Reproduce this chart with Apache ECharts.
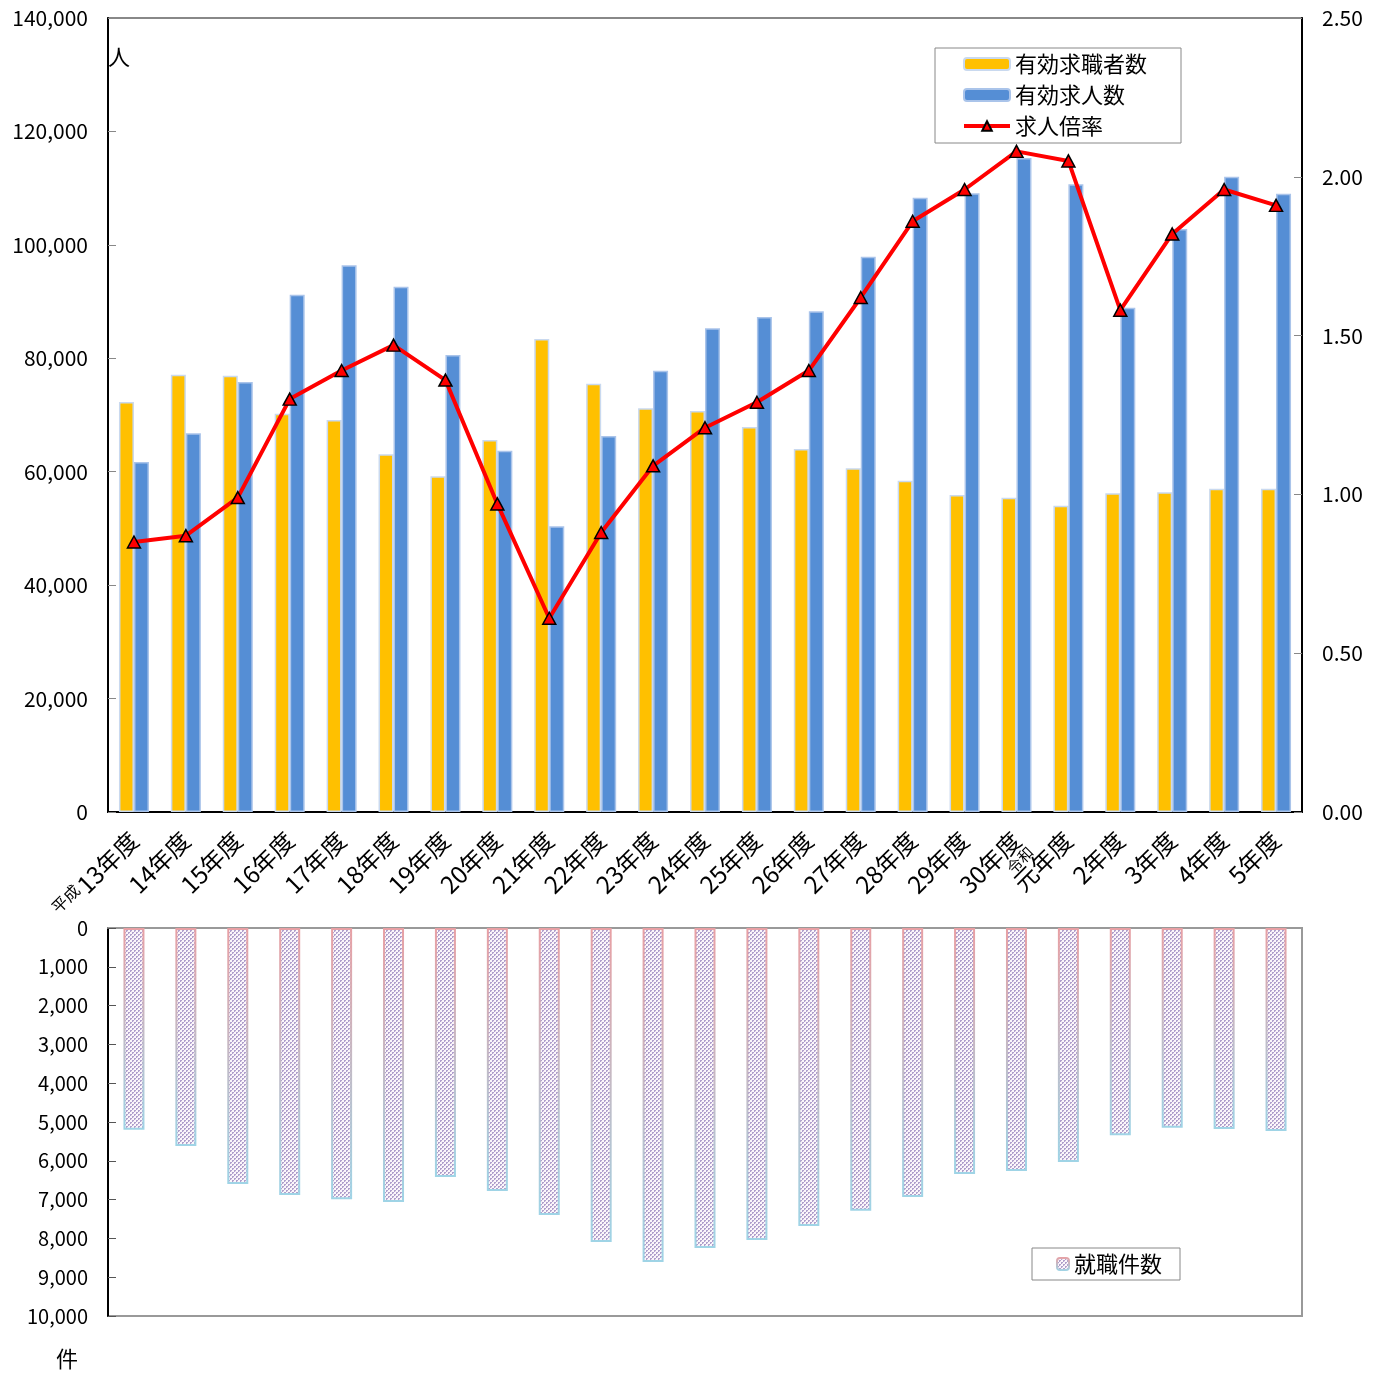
<!DOCTYPE html>
<html><head><meta charset="utf-8">
<script src="https://cdn.jsdelivr.net/npm/echarts@6/dist/echarts.min.js"></script>
<style>html,body{margin:0;padding:0;background:#fff}#c{width:1384px;height:1376px}</style>
</head><body><div id="c"></div>
<script>
const categories = ['13年度','14年度','15年度','16年度','17年度','18年度','19年度','20年度','21年度','22年度','23年度','24年度','25年度','26年度','27年度','28年度','29年度','30年度','元年度','2年度','3年度','4年度','5年度'];
const seekers = [72300,77100,76900,70200,69100,63100,59200,65600,83400,75500,71200,70700,67900,64000,60600,58400,55900,55400,54000,56200,56400,57000,57000];
const openings = [61700,66800,75800,91200,96400,92600,80600,63700,50400,66300,77800,85300,87300,88300,97900,108300,109100,115300,110700,88900,102800,112000,109000];
const ratio = [0.85,0.87,0.99,1.30,1.39,1.47,1.36,0.97,0.61,0.88,1.09,1.21,1.29,1.39,1.62,1.86,1.96,2.08,2.05,1.58,1.82,1.96,1.91];
const placements = [5200,5620,6600,6880,6990,7060,6420,6780,7400,8090,8610,8250,8040,7680,7290,6930,6340,6260,6030,5340,5150,5180,5230];
const seriesNames = ['有効求職者数','有効求人数','求人倍率','就職件数'];

const FONT = '"Noto Sans CJK JP", "Noto Sans", sans-serif';

// checkered pattern for 就職件数
const pc = document.createElement('canvas'); pc.width = 4; pc.height = 4;
const g = pc.getContext('2d');
g.fillStyle = '#fbf7fb'; g.fillRect(0,0,4,4);
g.fillStyle = '#b0a0cc'; g.fillRect(0,0,2,2); g.fillRect(2,2,2,2);
g.fillStyle = '#eddfee'; g.fillRect(1,1,1,1); g.fillRect(3,3,1,1);

const chart = echarts.init(document.getElementById('c'), null, {renderer:'canvas'});
const numFmt = v => v.toLocaleString('en-US');

chart.setOption({
  animation: false,
  textStyle: {fontFamily: FONT},
  grid: [
    {left:108, right:82, top:18, height:794, show:true, borderColor:'#888', borderWidth:2, backgroundColor:'transparent'},
    {left:108, right:82, top:928, height:388, show:true, borderColor:'#999', borderWidth:2, backgroundColor:'transparent'}
  ],
  legend: [
    {data:[{name:seriesNames[0]}, {name:seriesNames[1]}, {name:seriesNames[2], lineStyle:{width:4}}],
     orient:'vertical', left:935, top:48,
     padding:[5,34,6,27], itemGap:9, itemWidth:46, itemHeight:12,
     borderColor:'#888', borderWidth:1, textStyle:{fontSize:22, color:'#000', fontFamily:FONT}},
    {data:[seriesNames[3]], left:1032, top:1248, padding:[5,18,5,24], itemWidth:12, itemHeight:12,
     borderColor:'#888', borderWidth:1, textStyle:{fontSize:22, color:'#000', fontFamily:FONT}}
  ],
  xAxis: [
    {type:'category', gridIndex:0, data:categories, boundaryGap:true,
     axisLine:{lineStyle:{color:'#000', width:2}},
     axisTick:{inside:true, length:6, lineStyle:{color:'#888'}},
     axisLabel:{rotate:45, margin:24, color:'#000', fontSize:24, fontFamily:FONT, interval:0,
       formatter:(v,i)=> i===0 ? '{s|平成}{m|'+v+'}' : '{m|'+v+'}',
       rich:{s:{fontSize:16, fontFamily:FONT, color:'#000', verticalAlign:'top', padding:[0,2,0,0]}, m:{fontSize:24, fontFamily:FONT, color:'#000'}}}},
    {type:'category', gridIndex:1, data:categories, position:'top', boundaryGap:true,
     axisLine:{lineStyle:{color:'#999', width:2}}, axisTick:{show:false}, axisLabel:{show:false}}
  ],
  yAxis: [
    {type:'value', gridIndex:0, min:0, max:140000, interval:20000,
     axisLine:{show:true, lineStyle:{color:'#000', width:2}},
     axisTick:{show:true, inside:true, length:8, lineStyle:{color:'#888'}},
     splitLine:{show:false},
     axisLabel:{margin:20, color:'#000', fontSize:21, fontFamily:FONT, formatter:numFmt}},
    {type:'value', gridIndex:0, position:'right', min:0, max:2.5, interval:0.5,
     axisLine:{show:true, lineStyle:{color:'#000', width:2}},
     axisTick:{show:true, inside:true, length:8, lineStyle:{color:'#888'}},
     splitLine:{show:false},
     axisLabel:{margin:20, color:'#000', fontSize:21, fontFamily:FONT, formatter:v=>v.toFixed(2)}},
    {type:'value', gridIndex:1, inverse:true, min:0, max:10000, interval:1000,
     axisLine:{show:true, lineStyle:{color:'#000', width:2}},
     axisTick:{show:true, inside:true, length:8, lineStyle:{color:'#555'}},
     splitLine:{show:false},
     axisLabel:{margin:20, color:'#000', fontSize:20, fontFamily:FONT, formatter:numFmt}}
  ],
  series: [
    {name:seriesNames[0], type:'bar', xAxisIndex:0, yAxisIndex:0, data:seekers, barWidth:15, barGap:'0%',
     itemStyle:{color:'#ffc000', borderColor:'#c9d9ef', borderWidth:1.5}},
    {name:seriesNames[1], type:'bar', xAxisIndex:0, yAxisIndex:0, data:openings, barWidth:15, barGap:'0%',
     itemStyle:{color:'#558ed5', borderColor:'#aac4ea', borderWidth:1.5}},
    {name:seriesNames[2], type:'line', xAxisIndex:0, yAxisIndex:1, data:ratio, z:5,
     symbol:'triangle', symbolSize:[13,12],
     lineStyle:{color:'#ff0000', width:4},
     itemStyle:{color:'#ff0000', borderColor:'#000', borderWidth:1.5}},
    {name:seriesNames[3], type:'bar', xAxisIndex:1, yAxisIndex:2, data:placements, barWidth:21,
     itemStyle:{color:{image:pc, repeat:'repeat'},
       borderWidth:2,
       borderColor:new echarts.graphic.LinearGradient(0,0,0,1,[{offset:0,color:'#e8a0a4'},{offset:1,color:'#9fd4e6'}])}}
  ],
  graphic: [
    {type:'text', left:108, top:46, style:{text:'人', font:'22px '+FONT, fill:'#000'}},
    {type:'text', left:56, top:1348, style:{text:'件', font:'22px '+FONT, fill:'#000'}},
    {type:'text', x:1020, y:860, rotation:Math.PI/4, style:{text:'令和', font:'15px '+FONT, fill:'#000', align:'center', verticalAlign:'middle'}}
  ]
});
</script></body></html>
